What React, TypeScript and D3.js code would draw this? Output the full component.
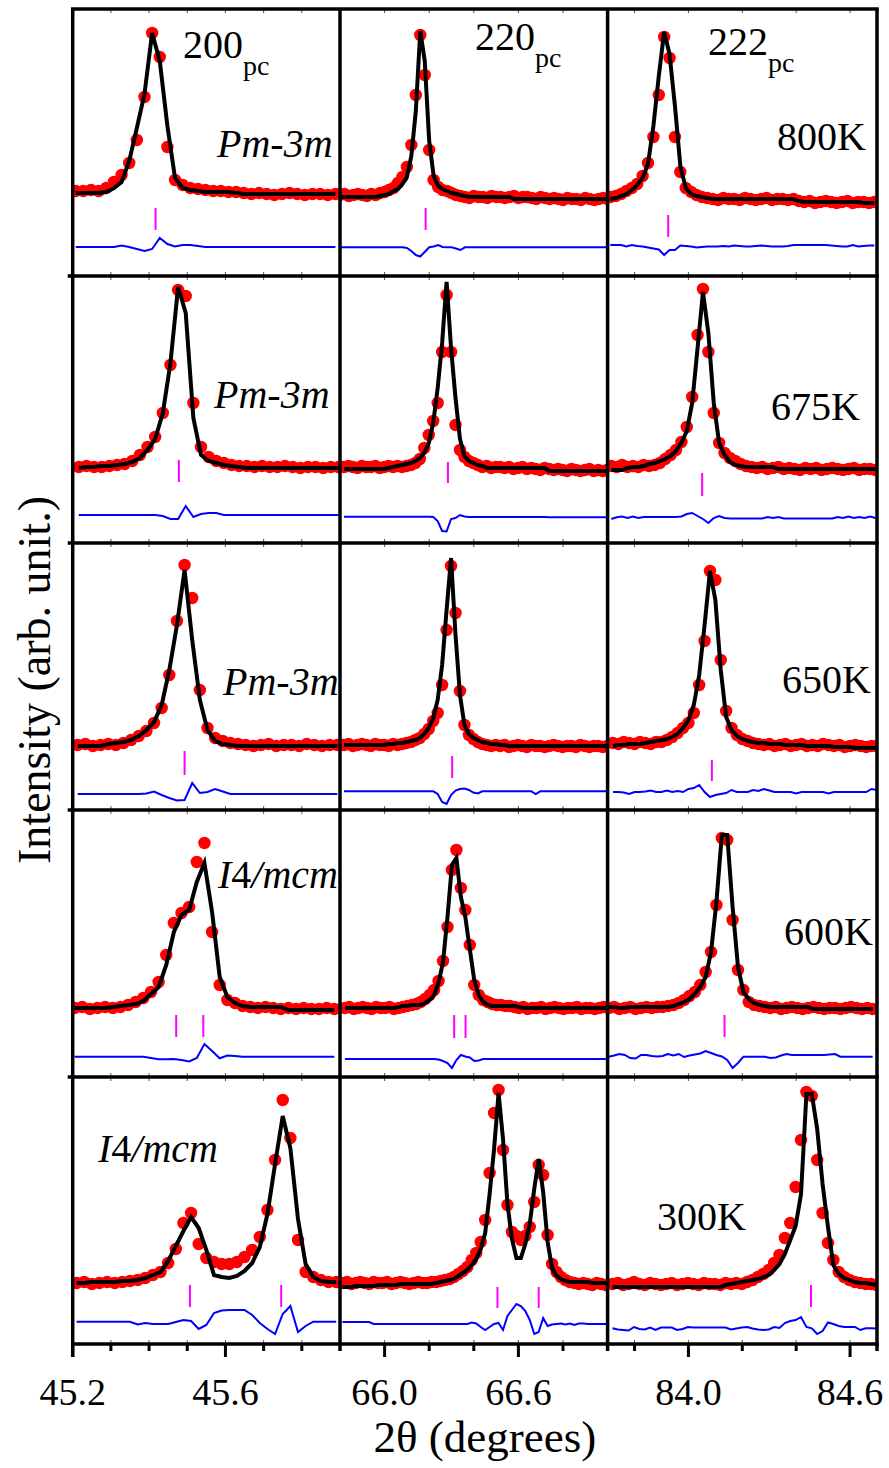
import React from 'react';
import * as d3 from 'd3';

// ---- axes -------------------------------------------------------------
const HKL = ['200', '220', '222'];
const TWO_THETA_DOMAINS: [number, number][] = [[45.2, 45.9], [65.8, 67.0], [83.7, 84.7]];
const MAJOR_TICKS = [[45.2, 45.6], [66.0, 66.6], [84.0, 84.6]];
const MINOR_TICKS = [[45.3, 45.4, 45.5, 45.7, 45.8], [66.2, 66.4, 66.8], [83.8, 84.2, 84.4]];
const TEMPERATURES = ['800K', '675K', '650K', '600K', '300K'];
const SPACE_GROUPS = ['Pm-3m', 'Pm-3m', 'Pm-3m', 'I4/mcm', 'I4/mcm'];
const SCAN_STEP = 0.02;
const INTENSITY_RANGE: [number, number] = [0, 267];

// ---- 800 K --------------------------------------------------------------
const START_800K = [45.208, 65.8, 83.71];
const OBS_800K_200 = [85,85,86,85,88,94,101,113,136,179,243,219,129,96,91,88,87,86,85,85,84,84,83,82,83,82,81,82,83,82,81,82,82,81,82];
const CALC_800K_200 = [83,83,83,83,84,88,94,115,148,182,243,215,150,98,88,86,85,84,84,84,84,83,82,82,82,82,82,82,82,82,82,82,82,82,82];
const DIFF_800K_200 = [29,29,29,29,29,29,30.5,29,27,25,27,38,32,29.5,31,31,30,29,29,29,29,29,29,29,29,29,29,29,29,29,29,29,29,29,29];
const OBS_800K_220 = [81,82,80,81,82,81,80,82,81,83,84,86,88,93,99,109,131,181,241,201,126,96,89,86,85,83,81,80,79,78,80,79,79,78,80,79,79,78,79,80,78,79,79,78,77,79,78,77,78,77,76,78,77,77,76,78,77,76,77,78,77];
const CALC_800K_220 = [79,79,79,79,79,79,79,79,79,80,81,82,85,87,92,99,120,165,245,215,135,100,90,87,85,83,82,81,80,79,79,79,79,79,79,79,79,79,79,77,77,77,77,77,77,77,77,77,77,77,77,77,77,77,77,77,77,77,77,77,77];
const DIFF_800K_220 = [28.7,28.7,28.7,28.7,28.7,28.7,28.7,28.7,28.7,28.7,28.7,28.7,28.7,28.7,28.7,28,25,21,19.5,24,28.7,29.5,31,29,28.7,28.7,27.5,26,28.7,28.7,28.7,28.7,28.7,28.7,28.7,28.7,28.7,28.7,28.7,28.7,28.7,28.7,28.7,28.7,28.7,28.7,28.7,28.7,28.7,28.7,28.7,28.7,28.7,28.7,28.7,28.7,28.7,28.7,28.7,28.7,28.7];
const OBS_800K_222 = [79,80,82,85,88,92,100,113,139,181,239,218,139,104,88,84,81,79,78,77,76,78,77,77,76,78,77,76,77,78,76,77,77,76,77,75,74,75,73,74,75,74,73,74,75,73,74,74,73,74];
const CALC_800K_222 = [77,78,80,82,86,91,98,112,150,200,244,222,170,110,88,82,80,79,78,77,77,77,77,77,77,77,77,77,77,77,77,77,77,77,77,75,74,74,74,74,74,74,74,74,74,74,74,73,73,73];
const DIFF_800K_222 = [31,31,31,29.5,31,30,29.5,28.5,27.5,26.5,21,26,26,30.5,30,29.5,28.5,29,29.5,29.5,29.5,30,29.5,30.5,30,29.5,29.5,30,30.5,30,29.5,29.5,29.5,30,31,31,31,31,31,31,31,30.5,30,29.5,29.5,31,29.5,30,30.5,30.5];
const BRAGG_800K = [[45.417], [66.184], [83.925]];
const BRAGG_LEVEL_800K = [[46, 68], [46, 68], [39, 61]];

// ---- 675 K --------------------------------------------------------------
const START_675K = [45.216, 65.818, 83.714];
const OBS_675K_200 = [76,77,76,76,77,78,79,82,88,96,106,130,178,253,247,140,96,86,82,80,78,77,77,76,77,76,76,77,76,75,76,76,75,76,76];
const CALC_675K_200 = [75,76,76,77,77,78,79,81,85,93,104,130,180,256,230,125,88,82,80,78,77,76,75,75,75,75,75,75,75,75,75,75,75,75,75];
const DIFF_675K_200 = [28,28,28,28,28,28,28,28,28,28,28,27,24,24,37,26,29,30,30,28,28,28,28,28,28,28,28,28,28,28,28,28,28,28,28];
const OBS_675K_220 = [76,77,76,75,77,76,76,77,75,76,77,76,77,76,77,78,80,84,95,108,122,140,191,248,191,118,93,86,82,80,78,76,77,75,76,76,75,76,74,75,76,74,75,74,73,75,74,73,74,73,72,74,73,72,73,74,72,73,72,73,73];
const CALC_675K_220 = [74,74,74,74,74,74,74,74,74,74,75,76,77,78,79,80,82,85,90,100,120,155,200,261,195,145,104,87,82,80,78,77,75,75,75,75,75,75,75,75,75,75,75,75,75,75,72,72,72,72,72,72,72,72,72,72,72,72,72,72,72];
const DIFF_675K_220 = [26.3,26.3,26.3,26.3,26.3,26.3,26.3,26.3,26.3,26.3,26.3,26.3,26.3,26.3,26.3,26.3,26.3,26.3,26.3,26.3,26,22,12,11.5,24,25,28,26.5,26,26,26,26,26,26,26,26,26,26,26,26,26,26,26,26,26,26,25.7,25.7,25.7,25.7,25.7,25.7,25.7,25.7,25.7,25.7,25.7,25.7,25.7,25.7,25.7];
const OBS_675K_222 = [77,76,78,76,77,76,78,77,78,80,84,88,93,101,116,146,208,254,191,130,100,90,85,82,79,77,76,75,76,74,75,76,74,75,74,73,75,74,75,73,74,75,74,73,74,75,73,74,74,73];
const CALC_675K_222 = [73,73,73,75,76,76,77,79,80,82,84,87,92,100,112,140,195,251,210,140,100,88,81,78,77,76,76,76,76,76,76,74,74,74,74,74,74,74,74,74,74,74,74,74,74,74,74,74,74,74];
const DIFF_675K_222 = [24,25.7,26.5,25,26.5,25,26,26,26,26,26,26,26,26.5,29,30,27,24,20,25,27,25,24.5,24.5,24.5,24.5,24.5,24.5,24.5,26,25,26,24.5,24.5,24.5,24.5,24.5,24.5,24.5,24.5,24.5,24.5,26,25,26.5,25,26,25,26.5,25];
const BRAGG_675K = [[45.478], [66.284], [84.051]];
const BRAGG_LEVEL_675K = [[61, 83], [60, 81], [47, 70]];

// ---- 650 K --------------------------------------------------------------
const START_650K = [45.213, 65.818, 83.72];
const OBS_650K_200 = [65,66,64,65,66,65,67,70,74,79,87,102,135,189,245,212,120,82,72,69,67,66,65,64,65,66,64,65,65,64,66,65,64,65,65];
const CALC_650K_200 = [64,64,64,64,66,67,68,70,74,80,88,105,140,185,240,170,110,80,69,66,65,64,64,64,64,64,64,64,64,64,64,64,64,64,64];
const DIFF_650K_200 = [16,16,16,16,16,16,16,16,16,16.5,18.5,15,12,9.5,10,27,17,18,21,18.5,16,16,16,16,16,16,16,16,16,16,16,16,16,16,16];
const OBS_650K_220 = [65,66,64,65,66,65,64,66,65,65,64,66,65,66,67,68,70,72,76,81,89,97,125,180,244,197,119,85,75,71,68,66,65,64,65,64,65,63,64,65,64,63,65,64,64,63,64,65,64,63,64,64,63,65,64,63,64,64,63,64,64];
const CALC_650K_220 = [65,65,65,65,65,65,65,65,65,65,66,66,67,67,68,69,70,72,76,82,92,110,145,200,252,175,115,85,76,72,70,68,67,66,66,65,65,64,64,64,64,64,64,64,64,64,64,64,64,64,64,64,64,64,64,64,64,64,64,64,64];
const DIFF_650K_220 = [18.7,18.7,18.7,18.7,18.7,18.7,18.7,18.7,18.7,18.7,18.7,18.7,18.7,18.7,18.7,18.7,18.7,18.7,18.7,18.7,18.7,16,8,6,15,19.5,21,21.5,20,17.5,16.5,18.7,18.7,18.7,18.7,18.7,18.7,18.7,18.7,18.7,18.7,18.7,18.7,16,18.7,18.7,18.7,18.7,18.7,18.7,18.7,18.7,18.7,18.7,18.7,18.7,18.7,18.7,18.7,18.7,18.7];
const OBS_650K_222 = [67,66,68,67,66,68,67,66,68,68,70,73,77,82,87,97,125,169,239,230,150,99,82,75,71,69,67,66,65,66,64,65,66,64,65,66,64,65,64,66,65,64,65,63,64,65,64,63,64,64];
const CALC_650K_222 = [64,65,65,66,66,66,67,68,69,70,71,73,76,82,90,105,135,185,239,210,140,93,80,74,71,69,68,67,67,66,66,66,65,65,65,65,64,64,64,64,64,63,63,63,63,62,62,62,62,62];
const DIFF_650K_222 = [18,18,17.5,16,18,18,18.5,19.5,18,18,19.5,18,19,18,21,22,25,18,13,15,16,17,20,18,18,18,20,19,21,19.5,18,18,18,18,16.5,18,18,18,18,18,16.5,18,18,18,18,18,18,18,21,20];
const BRAGG_650K = [[45.493], [66.303], [84.087]];
const BRAGG_LEVEL_650K = [[35, 59], [32, 54], [29, 50]];

// ---- 600 K --------------------------------------------------------------
const START_600K = [45.205, 65.822, 83.704];
const OBS_600K_200 = [69,70,68,69,70,69,70,72,75,79,85,95,122,154,164,170,215,234,145,92,77,74,71,70,69,70,69,68,69,68,69,68,68,69,68];
const CALC_600K_200 = [69,69,69,69,69,70,71,72,73,76,83,90,112,145,162,167,195,214,165,100,80,74,71,70,70,70,70,70,67,67,67,67,67,67,67];
const DIFF_600K_200 = [20.3,20.3,20.3,20.3,20.3,20.3,20.3,20.3,20.3,20.3,19,17.7,17.7,18,17,15.5,19,33,26,18.7,21.5,21,20.3,20.3,20.3,20.3,20.3,20.3,20.3,20.3,20.3,20.3,20.3,20.3,20.3];
const OBS_600K_220 = [69,70,68,69,70,69,68,70,69,69,70,68,69,70,71,72,73,75,78,82,87,96,116,150,207,227,189,167,132,92,82,77,75,73,72,72,71,71,70,69,70,68,69,69,70,68,69,70,69,68,69,69,70,68,69,69,68,69,70,69,68];
const CALC_600K_220 = [69,69,69,69,69,69,69,69,69,69,69,69,70,71,71,72,72,72,74,77,82,94,115,160,212,219,180,160,128,97,82,75,72,71,71,71,71,71,71,70,69,69,69,69,69,69,69,69,69,69,69,69,69,69,69,69,69,69,69,69,69];
const DIFF_600K_220 = [18,18,18,18,18,18,18,18,18,18,18,18,18,18,18,18,18,18,18,18,18,17.5,16,14,9,17,22,20.5,19.5,16,16.5,18,18,18,18,18,18,18,18,18,18,18,18,18,18,18,18,18,18,18,18,18,18,18,18,18,18,18,18,18,18];
const OBS_600K_222 = [69,70,68,69,70,68,69,70,69,70,70,71,72,74,77,81,85,92,105,125,172,239,237,157,107,87,75,72,71,70,69,70,68,69,70,69,68,69,70,69,68,69,69,68,69,70,69,68,69,68];
const CALC_600K_222 = [70,70,69,69,70,70,70,70,70,70,70,70,71,73,75,78,83,90,100,125,175,242,242,170,110,85,78,74,72,71,70,70,70,70,70,70,70,70,68,68,68,68,68,68,68,68,68,68,68,68];
const DIFF_600K_222 = [20.3,21.5,23,22,19,18.5,22,22,21,20.5,21,23,21.5,23,20,21.5,22.5,23.5,26,24,22,20.5,17,9,14,20.3,20.3,20.3,20.3,20.3,19,19.5,21.5,23,22,22,22,22,22,22,22,22.5,23,20.3,20.3,20.3,20.3,20.3,20.3,20.3];
const BRAGG_600K = [[45.471, 45.542], [66.312, 66.363], [84.134]];
const BRAGG_LEVEL_600K = [[40, 62], [39, 62], [40, 62]];

// ---- 300 K --------------------------------------------------------------
const START_300K = [45.21, 65.811, 83.718];
const OBS_300K_200 = [61,62,60,61,62,61,62,63,64,66,69,72,81,95,121,131,100,86,82,80,80,82,87,94,107,134,184,244,206,104,72,67,64,62,62];
const CALC_300K_200 = [61,61,62,62,62,62,63,63,64,66,69,72,83,98,113,127,116,94,69,67,66,68,73,81,97,130,180,228,196,125,80,67,63,62,62];
const DIFF_300K_200 = [22.3,22.3,22.3,22.3,22.3,22.3,22.3,22.3,19.5,21,20,20,20,22,24,23,15,19,31,33.5,34,34,34,29,21,15,10,30,38,12,18,22.3,22.3,22.3,22.3];
const OBS_300K_220 = [61,62,60,61,62,61,60,62,61,61,62,60,61,62,61,60,61,62,61,61,62,62,63,64,65,67,70,73,77,84,91,102,124,171,231,254,194,139,112,108,104,108,117,142,179,169,109,80,72,67,64,62,61,60,61,60,59,61,60,59,60];
const CALC_300K_220 = [57,57,57,58,58,58,58,58,59,59,59,59,59,60,60,60,60,60,60,60,60,61,62,63,64,65,68,71,74,79,85,95,111,150,195,251,205,140,105,86,86,100,120,155,185,152,102,76,68,65,63,62,62,62,62,62,61,61,61,61,61];
const DIFF_300K_220 = [22,22,22,22,22,22,22,20,20,20,20,20,20,20,20,20,20,20,20,20,20,20,20,20,20,20,20,20,20,21.5,20.5,17,14,17,20,21,14,28,34,40,38,33,24,10,12,26,18,19.5,20,20.5,19.5,20.5,19,20.5,20.5,20,20,20,20,20,19.5];
const OBS_300K_222 = [60,61,59,60,62,60,59,61,60,59,60,61,59,60,61,60,59,61,60,60,59,61,60,61,60,62,64,67,70,74,81,89,106,121,157,204,252,248,184,131,101,84,72,67,64,62,61,60,60,59];
const CALC_300K_222 = [57,57,57,57,57,57,57,57,57,57,57,57,57,57,57,57,57,57,57,57,57,59,60,61,62,63,64,65,67,69,74,80,90,104,118,150,250,250,215,160,117,79,70,66,64,62,61,61,60,59];
const DIFF_300K_222 = [15.7,14.5,14,13.5,17,15,14.5,16.5,14,16.5,16.5,16.5,14,15,17,16.5,16.5,16.5,16.5,16.5,16.5,16.5,14.5,15.5,16.5,17,15.5,14.5,14,14.5,17,16,21,23,24,27,17,15.7,10,13,21.5,20,18,17,17,17,14,15.7,15.7,15.5];
const BRAGG_300K = [[45.507, 45.746], [66.506, 66.691], [84.455]];
const BRAGG_LEVEL_300K = [[37, 59], [36, 57], [37, 59]];

// ---- panel table built from the arrays above -----------------------------
type Panel = { start: number; obs: number[]; calc: number[]; diff: number[]; bragg: number[]; level: number[] };
const mk = (start: number[], obs: number[][], calc: number[][], diff: number[][], bragg: number[][], level: number[][]): Panel[] =>
  [0, 1, 2].map(c => ({ start: start[c], obs: obs[c], calc: calc[c], diff: diff[c], bragg: bragg[c], level: level[c] }));

const ROWS: Panel[][] = [
  mk(START_800K, [OBS_800K_200, OBS_800K_220, OBS_800K_222], [CALC_800K_200, CALC_800K_220, CALC_800K_222], [DIFF_800K_200, DIFF_800K_220, DIFF_800K_222], BRAGG_800K, BRAGG_LEVEL_800K),
  mk(START_675K, [OBS_675K_200, OBS_675K_220, OBS_675K_222], [CALC_675K_200, CALC_675K_220, CALC_675K_222], [DIFF_675K_200, DIFF_675K_220, DIFF_675K_222], BRAGG_675K, BRAGG_LEVEL_675K),
  mk(START_650K, [OBS_650K_200, OBS_650K_220, OBS_650K_222], [CALC_650K_200, CALC_650K_220, CALC_650K_222], [DIFF_650K_200, DIFF_650K_220, DIFF_650K_222], BRAGG_650K, BRAGG_LEVEL_650K),
  mk(START_600K, [OBS_600K_200, OBS_600K_220, OBS_600K_222], [CALC_600K_200, CALC_600K_220, CALC_600K_222], [DIFF_600K_200, DIFF_600K_220, DIFF_600K_222], BRAGG_600K, BRAGG_LEVEL_600K),
  mk(START_300K, [OBS_300K_200, OBS_300K_220, OBS_300K_222], [CALC_300K_200, CALC_300K_220, CALC_300K_222], [DIFF_300K_200, DIFF_300K_220, DIFF_300K_222], BRAGG_300K, BRAGG_LEVEL_300K),
];

// ---- layout --------------------------------------------------------------
const W = 889;
const H = 1468;
const COL_X = [72.7, 340, 607.6, 877];
const ROW_Y = [9, 276, 543, 810, 1077, 1344];
const FONT = "'Liberation Serif', 'Times New Roman', Times, serif";

const xScales = TWO_THETA_DOMAINS.map((d, c) => d3.scaleLinear().domain(d).range([COL_X[c], COL_X[c + 1]]));
const yScales = TEMPERATURES.map((_, r) => d3.scaleLinear().domain(INTENSITY_RANGE).range([ROW_Y[r + 1], ROW_Y[r]]));

// label placement: [x, baseline] per row
const GROUP_POS = [[217, 157], [214, 408], [223, 695], [218, 888], [98, 1162]];
const TEMP_POS = [[777, 150], [771, 420], [782, 693], [784, 945], [657, 1230]];
const HKL_POS = [[183, 58], [475, 50], [708, 55]];

function SpaceGroup({ name, x, y }: { name: string; x: number; y: number }) {
  if (name.startsWith('I4')) {
    return (
      <text x={x} y={y} fontFamily={FONT} fontSize={40}>
        <tspan fontStyle="italic">I</tspan>
        <tspan>4</tspan>
        <tspan fontStyle="italic">{name.slice(2)}</tspan>
      </text>
    );
  }
  return (
    <text x={x} y={y} fontFamily={FONT} fontSize={40} fontStyle="italic">{name}</text>
  );
}

export default function App() {
  const allTicks = TWO_THETA_DOMAINS.map((_, c) => [...MAJOR_TICKS[c], ...MINOR_TICKS[c]]);
  return (
    <svg width={W} height={H} viewBox={`0 0 ${W} ${H}`} style={{ position: 'absolute', left: 0, top: 0, background: '#fff' }}>
      <defs>
        {ROWS.map((row, r) => row.map((_, c) => (
          <clipPath id={`clip-${r}-${c}`} key={`cp-${r}-${c}`}>
            <rect x={COL_X[c]} y={ROW_Y[r]} width={COL_X[c + 1] - COL_X[c]} height={ROW_Y[r + 1] - ROW_Y[r]} />
          </clipPath>
        )))}
      </defs>
      <rect x={0} y={0} width={W} height={H} fill="#fff" />

      {ROWS.map((row, r) => row.map((p, c) => {
        const x = xScales[c];
        const y = yScales[r];
        const tt = (i: number) => p.start + i * SCAN_STEP;
        const line = d3.line<number>().x((_, i) => x(tt(i))).y(d => y(d));
        return (
          <g key={`p-${r}-${c}`} clipPath={`url(#clip-${r}-${c})`}>
            {p.obs.map((v, i) => (
              <circle key={i} cx={x(tt(i))} cy={y(v)} r={6.2} fill="#ff0000" />
            ))}
            <path d={line(p.calc) ?? ''} fill="none" stroke="#000" strokeWidth={4} />
            <path d={line(p.diff) ?? ''} fill="none" stroke="#0000ff" strokeWidth={2} />
            {p.bragg.map((b, i) => (
              <line key={i} x1={x(b)} x2={x(b)} y1={y(p.level[0])} y2={y(p.level[1])} stroke="#ff00ff" strokeWidth={2} />
            ))}
          </g>
        );
      }))}

      {/* small inner ticks along each row edge */}
      {ROW_Y.slice(0, 5).map((top, r) => allTicks.map((ticks, c) => ticks.map((t, i) => (
        <g key={`it-${r}-${c}-${i}`} stroke="#555" strokeWidth={1}>
          <line x1={xScales[c](t)} x2={xScales[c](t)} y1={top} y2={top + 4} />
          <line x1={xScales[c](t)} x2={xScales[c](t)} y1={ROW_Y[r + 1]} y2={ROW_Y[r + 1] - 4} />
        </g>
      ))))}

      {/* frame */}
      <g stroke="#000" strokeWidth={3.5} fill="none">
        {ROW_Y.map((yy, i) => (
          <line key={`h${i}`} x1={i === 0 || i === 5 ? COL_X[0] - 1.7 : COL_X[0] - 5} x2={COL_X[3] + 1.7} y1={yy} y2={yy} />
        ))}
        {COL_X.map((xx, i) => (
          <line key={`v${i}`} x1={xx} x2={xx} y1={ROW_Y[0]} y2={ROW_Y[5] + (i === 0 ? 13 : 7)} />
        ))}
      </g>

      {/* bottom axis ticks and labels */}
      <g stroke="#000" strokeWidth={3}>
        {MAJOR_TICKS.map((ticks, c) => ticks.map(t => (
          <line key={`M${c}-${t}`} x1={xScales[c](t)} x2={xScales[c](t)} y1={ROW_Y[5]} y2={ROW_Y[5] + 13} />
        )))}
        {MINOR_TICKS.map((ticks, c) => ticks.map(t => (
          <line key={`m${c}-${t}`} x1={xScales[c](t)} x2={xScales[c](t)} y1={ROW_Y[5]} y2={ROW_Y[5] + 7} />
        )))}
      </g>
      {MAJOR_TICKS.map((ticks, c) => ticks.map(t => (
        <text key={`l${c}-${t}`} x={xScales[c](t)} y={1405} textAnchor="middle" fontFamily={FONT} fontSize={38}>
          {d3.format('.1f')(t)}
        </text>
      )))}
      <text x={(COL_X[0] + COL_X[3]) / 2 + 10} y={1452} textAnchor="middle" fontFamily={FONT} fontSize={45}>2θ (degrees)</text>
      <text transform={`translate(50, 680) rotate(-90)`} textAnchor="middle" fontFamily={FONT} fontSize={46}>Intensity (arb. unit.)</text>

      {/* reflection labels */}
      {HKL.map((h, c) => (
        <text key={`hkl${c}`} x={HKL_POS[c][0]} y={HKL_POS[c][1]} fontFamily={FONT} fontSize={40}>
          {h}<tspan dy={17} fontSize={28}>pc</tspan>
        </text>
      ))}

      {SPACE_GROUPS.map((g, r) => (
        <SpaceGroup key={`sg${r}`} name={g} x={GROUP_POS[r][0]} y={GROUP_POS[r][1]} />
      ))}
      {TEMPERATURES.map((t, r) => (
        <text key={`T${r}`} x={TEMP_POS[r][0]} y={TEMP_POS[r][1]} fontFamily={FONT} fontSize={40}>{t}</text>
      ))}
    </svg>
  );
}
